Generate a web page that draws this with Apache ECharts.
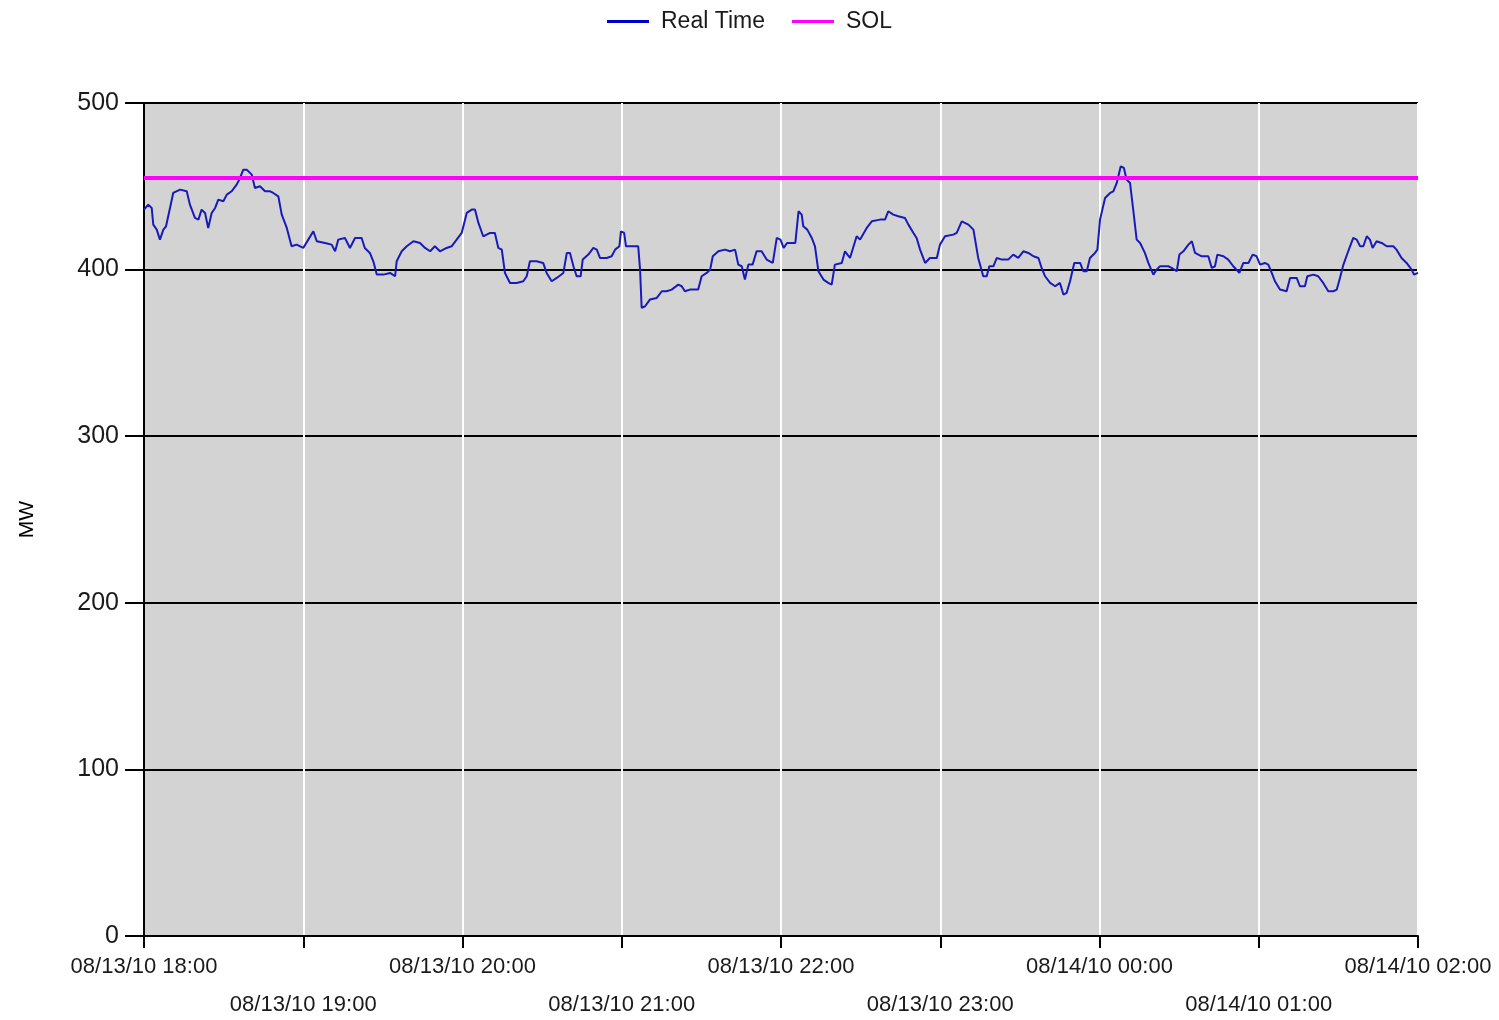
<!DOCTYPE html>
<html>
<head>
<meta charset="utf-8">
<script src="https://cdn.jsdelivr.net/npm/echarts@6/dist/echarts.min.js"></script>
<style>
html,body{margin:0;padding:0;background:#fff;}
#chart{width:1499px;height:1020px;}
</style>
</head>
<body>
<div id="chart"></div>
<script>
// Minutes after 08/13/10 18:00
var minutes = [0,1.6,2.9,3.5,4.8,6.0,7.3,8.3,9.8,11.0,13.6,16.1,17.3,19.2,20.5,21.7,23.0,24.2,25.5,26.8,28.0,29.9,31.2,33.0,34.9,36.2,37.4,38.7,40.6,41.8,43.7,45.6,47.5,48.7,50.6,51.9,53.8,55.6,57.5,60.0,61.9,63.8,65.1,68.2,70.7,72.0,73.2,75.7,77.6,79.5,82.0,83.2,85.1,86.4,87.7,90.2,92.7,94.6,95.2,97.1,99.0,101.5,104.0,105.9,107.8,109.6,111.5,114.0,115.9,117.8,119.7,121.6,123.5,124.7,126.0,127.8,130.4,132.2,133.5,134.8,136.0,137.9,140.4,142.9,144.2,145.4,147.9,150.4,151.7,153.6,155.5,158.0,159.3,160.5,161.8,163.0,164.5,165.3,167.4,169.3,170.6,171.8,174.3,176.2,177.5,179.1,179.7,180.9,181.6,183.8,186.2,186.9,187.5,188.8,190.6,193.2,195.1,196.9,198.8,201.3,202.6,203.8,205.7,208.8,210.1,212.0,213.3,214.3,216.4,218.9,220.8,222.7,223.9,225.2,226.4,227.7,229.3,230.8,232.7,234.6,236.9,238.4,239.8,241.0,242.3,245.4,246.6,247.8,248.4,249.9,251.6,252.8,254.1,256.0,257.8,259.1,260.3,262.9,264.1,266.0,268.5,269.8,272.3,274.2,277.3,279.2,280.4,282.3,284.2,286.7,288.0,289.9,291.1,292.4,294.3,296.1,298.7,299.9,301.8,304.9,306.2,308.1,310.6,312.5,314.3,316.2,317.5,318.5,320.0,321.3,323.2,325.6,327.5,329.4,331.3,333.2,335.1,337.0,338.2,339.5,341.4,343.3,345.1,346.4,347.6,348.9,350.5,352.7,353.9,355.2,356.4,358.3,359.2,360.2,362.1,364.0,365.2,366.5,368.0,369.2,370.2,371.5,372.7,374.0,375.3,377.1,378.4,380.3,381.5,382.8,385.9,387.2,389.1,390.1,391.6,393.5,394.8,396.0,398.5,401.0,402.3,403.5,404.4,406.7,408.5,410.4,412.7,414.2,416.1,417.7,419.2,420.5,422.3,423.6,424.9,426.1,428.0,430.5,431.8,434.3,435.5,437.4,438.3,440.6,442.4,444.3,446.2,448.1,449.4,450.6,451.9,453.7,455.6,456.9,458.2,459.4,460.7,461.9,462.9,464.4,466.3,468.2,470.7,471.9,473.8,475.7,477.6,478.5,480];
var realTime = [436,439,437,427,424,418,424,426,437,446,448,447,439,431,430,436,434,425,434,437,442,441,445,447,451,455,460,460,457,449,450,447,447,446,444,433,425,414,415,413,418,423,417,416,415,411,418,419,413,419,419,413,410,405,397,397,398,396,405,411,414,417,416,413,411,414,411,413,414,418,422,434,436,436,428,420,422,422,413,412,398,392,392,393,396,405,405,404,398,393,395,398,410,410,402,396,396,406,409,413,412,407,407,408,412,414,423,422,414,414,414,400,377,378,382,383,387,387,388,391,390,387,388,388,396,398,400,408,411,412,411,412,403,402,394,403,403,411,411,406,404,419,418,413,416,416,435,433,426,424,419,414,399,394,392,391,403,404,411,407,420,418,425,429,430,430,435,433,432,431,427,422,419,412,404,407,407,415,420,421,422,429,427,424,407,396,396,402,402,407,406,406,409,407,411,410,408,407,401,396,392,390,392,385,386,393,404,404,399,399,407,410,412,430,443,446,447,452,462,461,454,452,436,418,416,410,404,397,400,402,402,401,399,409,411,415,417,410,408,408,401,402,409,408,406,402,398,404,404,409,408,403,404,403,398,393,388,387,395,395,390,390,396,397,396,392,387,387,388,395,403,411,419,418,414,414,420,418,413,417,416,414,414,412,407,404,400,397,398];
var solValue = 455;
var tickLabels = ['08/13/10 18:00','08/13/10 19:00','08/13/10 20:00','08/13/10 21:00','08/13/10 22:00','08/13/10 23:00','08/14/10 00:00','08/14/10 01:00','08/14/10 02:00'];
var yTicks = [0,100,200,300,400,500];

var realData = minutes.map(function(m,i){return [m, realTime[i]];});
var solData = [[0, solValue],[480, solValue]];

var chart = echarts.init(document.getElementById('chart'), null, {renderer:'canvas'});
var font = 'Liberation Sans, Arial, sans-serif';
chart.setOption({
  animation:false,
  backgroundColor:'#ffffff',
  legend:{
    top:5, left:'center',
    itemWidth:42, itemHeight:3, itemGap:27,
    icon:'rect',
    textStyle:{fontFamily:font, fontSize:23, color:'#1a1a1a', padding:[0,0,0,7]},
    data:['Real Time','SOL']
  },
  grid:{left:144, right:81, top:103, bottom:84, show:true, backgroundColor:'#d3d3d3', borderWidth:0,
        containLabel:false, outerBoundsMode:'none'},
  xAxis:{
    type:'value', min:0, max:480, interval:60,
    axisLine:{show:true, lineStyle:{color:'#000', width:2}},
    axisTick:{show:true, length:12, lineStyle:{color:'#000', width:2}},
    splitLine:{show:true, lineStyle:{color:'#ffffff', width:2}},
    axisLabel:{
      fontFamily:font, fontSize:22, color:'#1a1a1a', margin:12, lineHeight:38,
      showMinLabel:true, showMaxLabel:true,
      formatter:function(v){
        var idx = Math.round(v/60);
        var t = tickLabels[idx] || '';
        return idx % 2 ? '\n' + t : t;
      }
    }
  },
  yAxis:{
    type:'value', min:yTicks[0], max:yTicks[yTicks.length-1], interval:100,
    name:'MW', nameLocation:'middle', nameGap:106, nameRotate:90,
    nameTextStyle:{fontFamily:font, fontSize:21, color:'#000'},
    axisLine:{show:true, lineStyle:{color:'#000', width:2}},
    axisTick:{show:true, length:19, lineStyle:{color:'#000', width:2}},
    splitLine:{show:true, lineStyle:{color:'#000', width:2}},
    axisLabel:{fontFamily:font, fontSize:25, color:'#1a1a1a', margin:25}
  },
  series:[
    {name:'Real Time', type:'line', data:realData, showSymbol:false, symbol:'none',
     lineStyle:{color:'#1a1ab8', width:2}, itemStyle:{color:'#0000cc'}},
    {name:'SOL', type:'line', data:solData, showSymbol:false, symbol:'none',
     lineStyle:{color:'#ff00ff', width:4}, itemStyle:{color:'#ff00ff'}}
  ]
});
</script>
</body>
</html>
